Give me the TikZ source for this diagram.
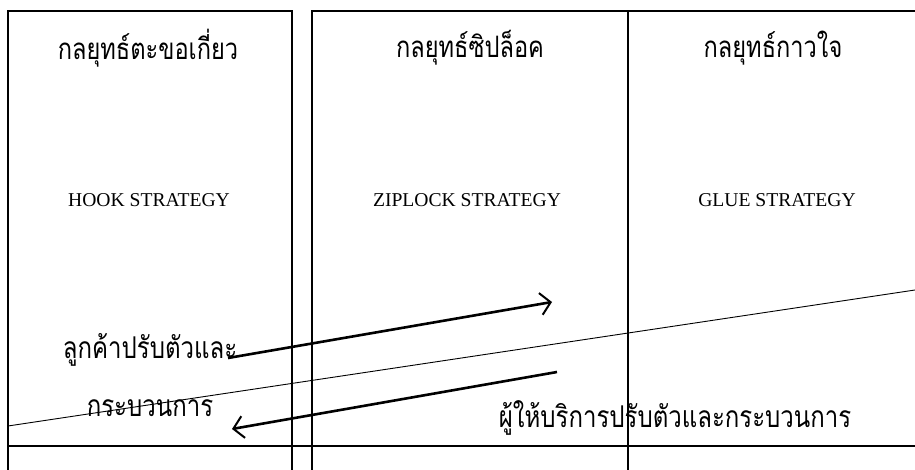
\documentclass[tikz,border=0pt]{standalone}
\usepackage{fontspec}
\setmainfont{Liberation Serif}
\newfontfamily\thaifont[Script=Thai,FakeStretch=0.8]{Loma}
\usetikzlibrary{arrows.meta}
\begin{document}
\begin{tikzpicture}[x=1pt,y=-1pt,
  frame/.style={draw=black,line width=1.3pt},
  thin/.style={draw=black,line width=0.9pt},
  flow/.style={draw=black,line width=2.6pt,-{Straight Barb[length=10pt,width=22pt,line width=2pt]}},
  thtitle/.style={font=\thaifont\fontsize{29.5}{34}\selectfont,inner sep=0pt},
  entitle/.style={font=\fontsize{19.6}{22}\selectfont,inner sep=0pt},
  thlabel/.style={font=\thaifont\fontsize{30}{34}\selectfont,inner sep=0pt}]
\useasboundingbox (0,0) rectangle (915,470);
% frames
\coordinate (a1) at (8,470);
\coordinate (a2) at (8,11);
\coordinate (a3) at (292,11);
\coordinate (a4) at (292,470);
\draw[frame] (a1) -- (a2) -- (a3) -- (a4);
\coordinate (b1) at (312,470);
\coordinate (b2) at (312,11);
\coordinate (b3) at (915,11);
\draw[frame] (b1) -- (b2) -- (b3);
\coordinate (c1) at (628,11);
\coordinate (c2) at (628,470);
\draw[frame] (c1) -- (c2);
\coordinate (h1) at (8,446);
\coordinate (h2) at (915,446);
\draw[frame] (h1) -- (h2);
\coordinate (d1) at (8,426);
\coordinate (d2) at (915,290);
\draw[thin] (d1) -- (d2);
% titles
\node[thtitle] (t1) at (148,48) {กลยุทธ์ตะขอเกี่ยว};
\node[thtitle] (t2) at (470,48) {กลยุทธ์ซิปล็อค};
\node[thtitle] (t3) at (773,48) {กลยุทธ์กาวใจ};
\node[entitle] (e1) at (149,200) {HOOK STRATEGY};
\node[entitle] (e2) at (467,200) {ZIPLOCK STRATEGY};
\node[entitle] (e3) at (777,200) {GLUE STRATEGY};
% labels
\node[thlabel] (l1) at (150,350) {ลูกค้าปรับตัวและ};
\node[thlabel] (l2) at (150,408) {กระบวนการ};
\node[thlabel] (l3) at (675,418) {ผู้ให้บริการปรับตัวและกระบวนการ};
% arrows
\coordinate (p1) at (228,358);
\coordinate (p2) at (552,302);
\draw[flow] (p1) -- (p2);
\coordinate (q1) at (557,372);
\coordinate (q2) at (232,429);
\draw[flow] (q1) -- (q2);
\end{tikzpicture}
\end{document}
